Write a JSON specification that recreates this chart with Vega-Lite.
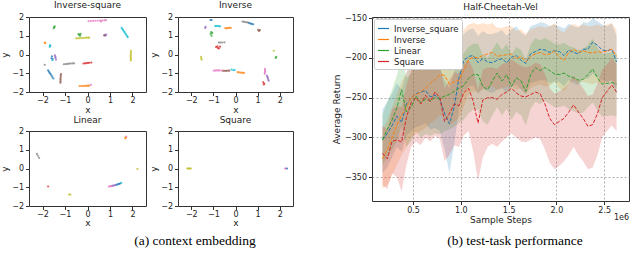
{
  "$schema": "https://vega.github.io/schema/vega-lite/v6.json",
  "padding": {"left": 0, "top": 0, "right": 0, "bottom": 0},
  "config": {
    "font": "DejaVu Sans",
    "view": {"stroke": "#333", "strokeWidth": 1},
    "axis": {"domain": false, "labelFontSize": 8, "titleFontSize": 9, "titleFontWeight": "normal", "tickSize": 3.5, "tickColor": "#333", "labelColor": "#222", "titleColor": "#222", "labelPadding": 2, "titlePadding": 3, "grid": false},
    "title": {"fontWeight": "normal", "fontSize": 9, "color": "#222", "offset": 3}
  },
  "datasets": {
    "emb": [
      {"p":"Inverse-square","c":"pink","x":0.05,"y":1.78},{"p":"Inverse-square","c":"pink","x":0.15,"y":1.785},{"p":"Inverse-square","c":"pink","x":0.25,"y":1.79},{"p":"Inverse-square","c":"pink","x":0.35,"y":1.8},{"p":"Inverse-square","c":"pink","x":0.45,"y":1.8},{"p":"Inverse-square","c":"pink","x":0.55,"y":1.81},{"p":"Inverse-square","c":"pink","x":0.65,"y":1.82},{"p":"Inverse-square","c":"pink","x":0.75,"y":1.82},{"p":"Inverse-square","c":"pink","x":0.82,"y":1.83},{"p":"Inverse-square","c":"pink","x":0.6,"y":1.76},
      {"p":"Inverse-square","c":"green","x":-1.5,"y":1.4},{"p":"Inverse-square","c":"green","x":-1.48,"y":1.45},{"p":"Inverse-square","c":"green","x":-1.46,"y":1.5},
      {"p":"Inverse-square","c":"orange","x":-1.9,"y":0.64},{"p":"Inverse-square","c":"orange","x":-1.88,"y":0.6},
      {"p":"Inverse-square","c":"cyan","x":-1.67,"y":0.5},{"p":"Inverse-square","c":"cyan","x":-1.65,"y":0.45},{"p":"Inverse-square","c":"cyan","x":-1.68,"y":0.41},
      {"p":"Inverse-square","c":"green","x":-0.37,"y":1.05},{"p":"Inverse-square","c":"green","x":-0.33,"y":1.0},{"p":"Inverse-square","c":"green","x":-0.4,"y":1.09},{"p":"Inverse-square","c":"green","x":-0.31,"y":1.1},
      {"p":"Inverse-square","c":"olive","x":-0.5,"y":0.86},{"p":"Inverse-square","c":"olive","x":-0.42,"y":0.865},{"p":"Inverse-square","c":"olive","x":-0.35,"y":0.87},{"p":"Inverse-square","c":"olive","x":-0.27,"y":0.875},{"p":"Inverse-square","c":"olive","x":-0.2,"y":0.88},{"p":"Inverse-square","c":"olive","x":-0.12,"y":0.89},{"p":"Inverse-square","c":"olive","x":-0.05,"y":0.9},{"p":"Inverse-square","c":"olive","x":0.02,"y":0.9},{"p":"Inverse-square","c":"olive","x":0.07,"y":0.9},
      {"p":"Inverse-square","c":"purple","x":0.77,"y":1.05},{"p":"Inverse-square","c":"purple","x":0.8,"y":1.0},{"p":"Inverse-square","c":"purple","x":0.83,"y":1.06},{"p":"Inverse-square","c":"brown","x":0.74,"y":1.02},
      {"p":"Inverse-square","c":"cyan","x":1.52,"y":1.42},{"p":"Inverse-square","c":"cyan","x":1.55,"y":1.36},{"p":"Inverse-square","c":"cyan","x":1.58,"y":1.3},{"p":"Inverse-square","c":"cyan","x":1.62,"y":1.24},{"p":"Inverse-square","c":"cyan","x":1.65,"y":1.18},{"p":"Inverse-square","c":"cyan","x":1.69,"y":1.11},{"p":"Inverse-square","c":"cyan","x":1.72,"y":1.05},{"p":"Inverse-square","c":"cyan","x":1.76,"y":0.98},{"p":"Inverse-square","c":"cyan","x":1.79,"y":0.92},
      {"p":"Inverse-square","c":"olive","x":1.93,"y":0.2},{"p":"Inverse-square","c":"olive","x":1.93,"y":0.12},{"p":"Inverse-square","c":"olive","x":1.93,"y":0.05},{"p":"Inverse-square","c":"olive","x":1.92,"y":-0.03},{"p":"Inverse-square","c":"olive","x":1.92,"y":-0.1},{"p":"Inverse-square","c":"olive","x":1.93,"y":-0.18},{"p":"Inverse-square","c":"olive","x":1.93,"y":-0.25},{"p":"Inverse-square","c":"olive","x":1.92,"y":-0.32},
      {"p":"Inverse-square","c":"blue","x":-1.58,"y":-0.1},{"p":"Inverse-square","c":"blue","x":-1.6,"y":-0.2},{"p":"Inverse-square","c":"blue","x":-1.55,"y":-0.25},{"p":"Inverse-square","c":"cyan","x":-1.56,"y":-0.3},
      {"p":"Inverse-square","c":"purple","x":-1.45,"y":-0.05},{"p":"Inverse-square","c":"purple","x":-1.42,"y":-0.18},{"p":"Inverse-square","c":"purple","x":-1.4,"y":-0.28},{"p":"Inverse-square","c":"purple","x":-1.43,"y":-0.12},
      {"p":"Inverse-square","c":"gray","x":-1.9,"y":-0.55},
      {"p":"Inverse-square","c":"gray","x":-1.05,"y":-0.52},{"p":"Inverse-square","c":"gray","x":-0.97,"y":-0.51},{"p":"Inverse-square","c":"gray","x":-0.9,"y":-0.5},{"p":"Inverse-square","c":"gray","x":-0.82,"y":-0.49},{"p":"Inverse-square","c":"gray","x":-0.75,"y":-0.48},{"p":"Inverse-square","c":"gray","x":-0.67,"y":-0.475},{"p":"Inverse-square","c":"gray","x":-0.6,"y":-0.47},
      {"p":"Inverse-square","c":"red","x":-0.18,"y":-0.48},{"p":"Inverse-square","c":"red","x":-0.11,"y":-0.47},{"p":"Inverse-square","c":"red","x":-0.05,"y":-0.46},{"p":"Inverse-square","c":"red","x":0.02,"y":-0.45},{"p":"Inverse-square","c":"red","x":0.08,"y":-0.44},{"p":"Inverse-square","c":"red","x":0.17,"y":-0.43},
      {"p":"Inverse-square","c":"blue","x":-1.75,"y":-0.85},{"p":"Inverse-square","c":"blue","x":-1.71,"y":-0.92},{"p":"Inverse-square","c":"blue","x":-1.68,"y":-0.98},{"p":"Inverse-square","c":"blue","x":-1.64,"y":-1.05},{"p":"Inverse-square","c":"blue","x":-1.6,"y":-1.12},{"p":"Inverse-square","c":"blue","x":-1.56,"y":-1.2},{"p":"Inverse-square","c":"blue","x":-1.52,"y":-1.28},
      {"p":"Inverse-square","c":"brown","x":-1.18,"y":-1.05},{"p":"Inverse-square","c":"brown","x":-1.19,"y":-1.12},{"p":"Inverse-square","c":"brown","x":-1.19,"y":-1.2},{"p":"Inverse-square","c":"brown","x":-1.2,"y":-1.28},{"p":"Inverse-square","c":"brown","x":-1.2,"y":-1.35},{"p":"Inverse-square","c":"brown","x":-1.2,"y":-1.43},{"p":"Inverse-square","c":"brown","x":-1.2,"y":-1.5},
      {"p":"Inverse-square","c":"orange","x":-0.35,"y":-1.68},{"p":"Inverse-square","c":"orange","x":-0.27,"y":-1.68},{"p":"Inverse-square","c":"orange","x":-0.2,"y":-1.68},{"p":"Inverse-square","c":"orange","x":-0.12,"y":-1.675},{"p":"Inverse-square","c":"orange","x":-0.05,"y":-1.67},{"p":"Inverse-square","c":"orange","x":0.01,"y":-1.665},{"p":"Inverse-square","c":"orange","x":0.07,"y":-1.66},
      {"p":"Inverse-square","c":"pink","x":0.15,"y":-1.62},
      {"p":"Inverse","c":"blue","x":-1.13,"y":1.84},{"p":"Inverse","c":"blue","x":-1.08,"y":1.84},
      {"p":"Inverse","c":"purple","x":-1.37,"y":1.42},{"p":"Inverse","c":"purple","x":-1.35,"y":1.48},
      {"p":"Inverse","c":"cyan","x":-0.92,"y":1.52},{"p":"Inverse","c":"cyan","x":-0.87,"y":1.52},{"p":"Inverse","c":"cyan","x":-0.82,"y":1.52},{"p":"Inverse","c":"cyan","x":-0.76,"y":1.51},{"p":"Inverse","c":"cyan","x":-0.7,"y":1.5},
      {"p":"Inverse","c":"orange","x":-0.46,"y":1.4},{"p":"Inverse","c":"orange","x":-0.4,"y":1.405},{"p":"Inverse","c":"orange","x":-0.35,"y":1.41},{"p":"Inverse","c":"orange","x":-0.28,"y":1.415},{"p":"Inverse","c":"orange","x":-0.22,"y":1.42},
      {"p":"Inverse","c":"green","x":-1.1,"y":1.2},{"p":"Inverse","c":"green","x":-1.12,"y":1.1},{"p":"Inverse","c":"green","x":-1.08,"y":1.0},{"p":"Inverse","c":"green","x":-1.05,"y":1.15},
      {"p":"Inverse","c":"gray","x":0.32,"y":1.76},{"p":"Inverse","c":"gray","x":0.38,"y":1.745},{"p":"Inverse","c":"gray","x":0.45,"y":1.73},{"p":"Inverse","c":"gray","x":0.52,"y":1.715},{"p":"Inverse","c":"gray","x":0.58,"y":1.7},{"p":"Inverse","c":"blue","x":0.63,"y":1.67},{"p":"Inverse","c":"blue","x":0.68,"y":1.65},{"p":"Inverse","c":"blue","x":0.74,"y":1.63},{"p":"Inverse","c":"blue","x":0.8,"y":1.61},
      {"p":"Inverse","c":"brown","x":1.02,"y":1.32},{"p":"Inverse","c":"brown","x":1.06,"y":1.26},{"p":"Inverse","c":"brown","x":1.1,"y":1.3},
      {"p":"Inverse","c":"gray","x":-0.75,"y":0.64},{"p":"Inverse","c":"gray","x":-0.68,"y":0.64},{"p":"Inverse","c":"gray","x":-0.6,"y":0.64},{"p":"Inverse","c":"gray","x":-0.5,"y":0.65},
      {"p":"Inverse","c":"red","x":-0.88,"y":0.4},{"p":"Inverse","c":"red","x":-0.8,"y":0.35},{"p":"Inverse","c":"red","x":-0.75,"y":0.32},{"p":"Inverse","c":"red","x":-0.7,"y":0.42},{"p":"Inverse","c":"red","x":-0.82,"y":0.44},
      {"p":"Inverse","c":"olive","x":-1.56,"y":-0.12},{"p":"Inverse","c":"olive","x":-1.55,"y":-0.2},{"p":"Inverse","c":"olive","x":-1.53,"y":-0.27},
      {"p":"Inverse","c":"olive","x":1.73,"y":0.2},{"p":"Inverse","c":"green","x":1.84,"y":-0.12},{"p":"Inverse","c":"green","x":1.82,"y":-0.18},
      {"p":"Inverse","c":"pink","x":-0.98,"y":-0.86},{"p":"Inverse","c":"pink","x":-0.91,"y":-0.855},{"p":"Inverse","c":"pink","x":-0.85,"y":-0.85},{"p":"Inverse","c":"pink","x":-0.78,"y":-0.85},{"p":"Inverse","c":"pink","x":-0.72,"y":-0.85},{"p":"Inverse","c":"pink","x":-0.62,"y":-0.86},
      {"p":"Inverse","c":"brown","x":-0.55,"y":-0.87},{"p":"Inverse","c":"brown","x":-0.48,"y":-0.87},{"p":"Inverse","c":"brown","x":-0.42,"y":-0.87},{"p":"Inverse","c":"brown","x":-0.35,"y":-0.865},{"p":"Inverse","c":"brown","x":-0.28,"y":-0.86},
      {"p":"Inverse","c":"cyan","x":-0.18,"y":-0.8},{"p":"Inverse","c":"cyan","x":-0.1,"y":-0.84},{"p":"Inverse","c":"cyan","x":-0.04,"y":-0.82},
      {"p":"Inverse","c":"orange","x":0.1,"y":-0.94},{"p":"Inverse","c":"orange","x":0.17,"y":-0.955},{"p":"Inverse","c":"orange","x":0.25,"y":-0.97},{"p":"Inverse","c":"orange","x":0.32,"y":-0.975},{"p":"Inverse","c":"orange","x":0.38,"y":-0.98},
      {"p":"Inverse","c":"pink","x":1.33,"y":-0.77},{"p":"Inverse","c":"pink","x":1.34,"y":-0.84},{"p":"Inverse","c":"pink","x":1.34,"y":-0.9},{"p":"Inverse","c":"pink","x":1.33,"y":-0.97},{"p":"Inverse","c":"pink","x":1.32,"y":-1.03},
      {"p":"Inverse","c":"purple","x":1.42,"y":-1.12},{"p":"Inverse","c":"purple","x":1.44,"y":-1.19},{"p":"Inverse","c":"purple","x":1.46,"y":-1.25},{"p":"Inverse","c":"purple","x":1.48,"y":-1.33},{"p":"Inverse","c":"purple","x":1.5,"y":-1.4},
      {"p":"Inverse","c":"red","x":1.25,"y":-1.48},{"p":"Inverse","c":"red","x":1.3,"y":-1.55},{"p":"Inverse","c":"red","x":1.28,"y":-1.6},
      {"p":"Linear","c":"pink","x":1.72,"y":1.7},{"p":"Linear","c":"orange","x":1.68,"y":1.62},{"p":"Linear","c":"orange","x":1.7,"y":1.65},
      {"p":"Linear","c":"gray","x":-2.25,"y":0.78},{"p":"Linear","c":"gray","x":-2.2,"y":0.68},{"p":"Linear","c":"gray","x":-2.15,"y":0.57},
      {"p":"Linear","c":"olive","x":2.22,"y":-0.02},
      {"p":"Linear","c":"red","x":-1.75,"y":-0.96},
      {"p":"Linear","c":"olive","x":-0.82,"y":-1.39},{"p":"Linear","c":"olive","x":-0.76,"y":-1.39},
      {"p":"Linear","c":"pink","x":0.95,"y":-0.96},{"p":"Linear","c":"pink","x":1.0,"y":-0.95},{"p":"Linear","c":"pink","x":1.05,"y":-0.94},{"p":"Linear","c":"purple","x":1.1,"y":-0.925},{"p":"Linear","c":"purple","x":1.15,"y":-0.91},{"p":"Linear","c":"purple","x":1.2,"y":-0.895},{"p":"Linear","c":"purple","x":1.25,"y":-0.88},{"p":"Linear","c":"blue","x":1.3,"y":-0.86},{"p":"Linear","c":"blue","x":1.35,"y":-0.84},{"p":"Linear","c":"blue","x":1.4,"y":-0.82},{"p":"Linear","c":"blue","x":1.45,"y":-0.8},{"p":"Linear","c":"cyan","x":1.5,"y":-0.77},
      {"p":"Square","c":"olive","x":-2.18,"y":0.0},{"p":"Square","c":"olive","x":-2.14,"y":0.0},{"p":"Square","c":"olive","x":-2.1,"y":0.0},{"p":"Square","c":"olive","x":-2.06,"y":0.0},{"p":"Square","c":"olive","x":-2.02,"y":0.0},
      {"p":"Square","c":"pink","x":2.24,"y":0.0},{"p":"Square","c":"pink","x":2.28,"y":0.0},{"p":"Square","c":"blue","x":2.33,"y":0.0}
    ],
    "perf": [
      {"s":"Inverse_square","x":0.18,"y":-303,"lo":-345,"hi":-265},{"s":"Inverse_square","x":0.23,"y":-295,"lo":-338,"hi":-255},{"s":"Inverse_square","x":0.28,"y":-285,"lo":-325,"hi":-245},{"s":"Inverse_square","x":0.33,"y":-273,"lo":-312,"hi":-232},{"s":"Inverse_square","x":0.38,"y":-281,"lo":-318,"hi":-240},{"s":"Inverse_square","x":0.43,"y":-258,"lo":-298,"hi":-218},{"s":"Inverse_square","x":0.48,"y":-251,"lo":-292,"hi":-210},{"s":"Inverse_square","x":0.53,"y":-245,"lo":-287,"hi":-205},{"s":"Inverse_square","x":0.58,"y":-243,"lo":-285,"hi":-202},{"s":"Inverse_square","x":0.63,"y":-241,"lo":-282,"hi":-200},
      {"s":"Inverse_square","x":0.68,"y":-249,"lo":-290,"hi":-208},{"s":"Inverse_square","x":0.73,"y":-247,"lo":-288,"hi":-206},{"s":"Inverse_square","x":0.78,"y":-252,"lo":-292,"hi":-212},{"s":"Inverse_square","x":0.83,"y":-270,"lo":-315,"hi":-228},{"s":"Inverse_square","x":0.88,"y":-283,"lo":-345,"hi":-238},{"s":"Inverse_square","x":0.93,"y":-262,"lo":-310,"hi":-218},{"s":"Inverse_square","x":0.98,"y":-225,"lo":-265,"hi":-185},{"s":"Inverse_square","x":1.03,"y":-204,"lo":-242,"hi":-170},{"s":"Inverse_square","x":1.08,"y":-198,"lo":-236,"hi":-165},{"s":"Inverse_square","x":1.13,"y":-197,"lo":-235,"hi":-163},
      {"s":"Inverse_square","x":1.18,"y":-206,"lo":-245,"hi":-172},{"s":"Inverse_square","x":1.23,"y":-201,"lo":-238,"hi":-166},{"s":"Inverse_square","x":1.28,"y":-205,"lo":-242,"hi":-170},{"s":"Inverse_square","x":1.33,"y":-206,"lo":-244,"hi":-170},{"s":"Inverse_square","x":1.38,"y":-203,"lo":-240,"hi":-168},{"s":"Inverse_square","x":1.43,"y":-201,"lo":-238,"hi":-165},{"s":"Inverse_square","x":1.48,"y":-206,"lo":-244,"hi":-172},{"s":"Inverse_square","x":1.53,"y":-199,"lo":-236,"hi":-164},{"s":"Inverse_square","x":1.58,"y":-197,"lo":-233,"hi":-160},{"s":"Inverse_square","x":1.63,"y":-203,"lo":-240,"hi":-168},
      {"s":"Inverse_square","x":1.68,"y":-207,"lo":-245,"hi":-172},{"s":"Inverse_square","x":1.73,"y":-195,"lo":-232,"hi":-160},{"s":"Inverse_square","x":1.78,"y":-192,"lo":-230,"hi":-158},{"s":"Inverse_square","x":1.83,"y":-189,"lo":-228,"hi":-155},{"s":"Inverse_square","x":1.88,"y":-190,"lo":-228,"hi":-156},{"s":"Inverse_square","x":1.93,"y":-193,"lo":-232,"hi":-160},{"s":"Inverse_square","x":1.98,"y":-191,"lo":-230,"hi":-158},{"s":"Inverse_square","x":2.03,"y":-192,"lo":-230,"hi":-160},{"s":"Inverse_square","x":2.08,"y":-197,"lo":-236,"hi":-163},{"s":"Inverse_square","x":2.13,"y":-190,"lo":-228,"hi":-157},
      {"s":"Inverse_square","x":2.18,"y":-193,"lo":-232,"hi":-160},{"s":"Inverse_square","x":2.23,"y":-195,"lo":-234,"hi":-162},{"s":"Inverse_square","x":2.28,"y":-189,"lo":-226,"hi":-155},{"s":"Inverse_square","x":2.33,"y":-189,"lo":-226,"hi":-156},{"s":"Inverse_square","x":2.38,"y":-180,"lo":-220,"hi":-150},{"s":"Inverse_square","x":2.43,"y":-184,"lo":-224,"hi":-154},{"s":"Inverse_square","x":2.48,"y":-190,"lo":-228,"hi":-158},{"s":"Inverse_square","x":2.53,"y":-191,"lo":-230,"hi":-160},{"s":"Inverse_square","x":2.58,"y":-189,"lo":-228,"hi":-157},{"s":"Inverse_square","x":2.63,"y":-205,"lo":-245,"hi":-172},
      {"s":"Inverse","x":0.18,"y":-327,"lo":-365,"hi":-290},{"s":"Inverse","x":0.23,"y":-315,"lo":-360,"hi":-278},{"s":"Inverse","x":0.28,"y":-300,"lo":-348,"hi":-262},{"s":"Inverse","x":0.33,"y":-285,"lo":-335,"hi":-245},{"s":"Inverse","x":0.38,"y":-272,"lo":-322,"hi":-230},{"s":"Inverse","x":0.43,"y":-262,"lo":-312,"hi":-218},{"s":"Inverse","x":0.48,"y":-250,"lo":-300,"hi":-205},{"s":"Inverse","x":0.53,"y":-246,"lo":-296,"hi":-198},{"s":"Inverse","x":0.58,"y":-243,"lo":-292,"hi":-192},{"s":"Inverse","x":0.63,"y":-238,"lo":-288,"hi":-186},
      {"s":"Inverse","x":0.68,"y":-232,"lo":-282,"hi":-178},{"s":"Inverse","x":0.73,"y":-227,"lo":-278,"hi":-172},{"s":"Inverse","x":0.78,"y":-221,"lo":-272,"hi":-164},{"s":"Inverse","x":0.83,"y":-222,"lo":-274,"hi":-162},{"s":"Inverse","x":0.88,"y":-233,"lo":-285,"hi":-172},{"s":"Inverse","x":0.93,"y":-230,"lo":-280,"hi":-170},{"s":"Inverse","x":0.98,"y":-228,"lo":-276,"hi":-170},{"s":"Inverse","x":1.03,"y":-216,"lo":-262,"hi":-165},{"s":"Inverse","x":1.08,"y":-202,"lo":-245,"hi":-158},{"s":"Inverse","x":1.13,"y":-199,"lo":-242,"hi":-156},
      {"s":"Inverse","x":1.18,"y":-200,"lo":-243,"hi":-158},{"s":"Inverse","x":1.23,"y":-197,"lo":-240,"hi":-156},{"s":"Inverse","x":1.28,"y":-195,"lo":-238,"hi":-158},{"s":"Inverse","x":1.33,"y":-193,"lo":-236,"hi":-156},{"s":"Inverse","x":1.38,"y":-198,"lo":-240,"hi":-162},{"s":"Inverse","x":1.43,"y":-197,"lo":-238,"hi":-162},{"s":"Inverse","x":1.48,"y":-196,"lo":-236,"hi":-160},{"s":"Inverse","x":1.53,"y":-195,"lo":-235,"hi":-160},{"s":"Inverse","x":1.58,"y":-201,"lo":-240,"hi":-166},{"s":"Inverse","x":1.63,"y":-198,"lo":-238,"hi":-164},
      {"s":"Inverse","x":1.68,"y":-205,"lo":-245,"hi":-170},{"s":"Inverse","x":1.73,"y":-198,"lo":-238,"hi":-164},{"s":"Inverse","x":1.78,"y":-195,"lo":-235,"hi":-162},{"s":"Inverse","x":1.83,"y":-193,"lo":-233,"hi":-160},{"s":"Inverse","x":1.88,"y":-196,"lo":-236,"hi":-162},{"s":"Inverse","x":1.93,"y":-195,"lo":-235,"hi":-160},{"s":"Inverse","x":1.98,"y":-191,"lo":-230,"hi":-156},{"s":"Inverse","x":2.03,"y":-199,"lo":-238,"hi":-165},{"s":"Inverse","x":2.08,"y":-203,"lo":-242,"hi":-168},{"s":"Inverse","x":2.13,"y":-193,"lo":-232,"hi":-160},
      {"s":"Inverse","x":2.18,"y":-189,"lo":-228,"hi":-157},{"s":"Inverse","x":2.23,"y":-193,"lo":-232,"hi":-160},{"s":"Inverse","x":2.28,"y":-191,"lo":-230,"hi":-158},{"s":"Inverse","x":2.33,"y":-193,"lo":-232,"hi":-160},{"s":"Inverse","x":2.38,"y":-194,"lo":-233,"hi":-160},{"s":"Inverse","x":2.43,"y":-192,"lo":-231,"hi":-158},{"s":"Inverse","x":2.48,"y":-193,"lo":-232,"hi":-160},{"s":"Inverse","x":2.53,"y":-191,"lo":-230,"hi":-158},{"s":"Inverse","x":2.58,"y":-189,"lo":-228,"hi":-156},{"s":"Inverse","x":2.63,"y":-198,"lo":-238,"hi":-165},
      {"s":"Linear","x":0.18,"y":-303,"lo":-335,"hi":-272},{"s":"Linear","x":0.23,"y":-290,"lo":-325,"hi":-255},{"s":"Linear","x":0.28,"y":-278,"lo":-315,"hi":-240},{"s":"Linear","x":0.33,"y":-263,"lo":-305,"hi":-222},{"s":"Linear","x":0.38,"y":-240,"lo":-285,"hi":-200},{"s":"Linear","x":0.43,"y":-268,"lo":-312,"hi":-225},{"s":"Linear","x":0.48,"y":-262,"lo":-305,"hi":-220},{"s":"Linear","x":0.53,"y":-248,"lo":-292,"hi":-205},{"s":"Linear","x":0.58,"y":-256,"lo":-300,"hi":-212},{"s":"Linear","x":0.63,"y":-252,"lo":-296,"hi":-208},
      {"s":"Linear","x":0.68,"y":-254,"lo":-298,"hi":-210},{"s":"Linear","x":0.73,"y":-250,"lo":-295,"hi":-206},{"s":"Linear","x":0.78,"y":-251,"lo":-296,"hi":-206},{"s":"Linear","x":0.83,"y":-248,"lo":-292,"hi":-204},{"s":"Linear","x":0.88,"y":-246,"lo":-290,"hi":-203},{"s":"Linear","x":0.93,"y":-242,"lo":-287,"hi":-200},{"s":"Linear","x":0.98,"y":-238,"lo":-282,"hi":-196},{"s":"Linear","x":1.03,"y":-235,"lo":-278,"hi":-194},{"s":"Linear","x":1.08,"y":-226,"lo":-270,"hi":-186},{"s":"Linear","x":1.13,"y":-221,"lo":-265,"hi":-182},
      {"s":"Linear","x":1.18,"y":-221,"lo":-265,"hi":-182},{"s":"Linear","x":1.23,"y":-236,"lo":-280,"hi":-196},{"s":"Linear","x":1.28,"y":-240,"lo":-284,"hi":-200},{"s":"Linear","x":1.33,"y":-229,"lo":-272,"hi":-190},{"s":"Linear","x":1.38,"y":-219,"lo":-262,"hi":-180},{"s":"Linear","x":1.43,"y":-229,"lo":-272,"hi":-190},{"s":"Linear","x":1.48,"y":-221,"lo":-264,"hi":-182},{"s":"Linear","x":1.53,"y":-236,"lo":-278,"hi":-196},{"s":"Linear","x":1.58,"y":-225,"lo":-268,"hi":-186},{"s":"Linear","x":1.63,"y":-229,"lo":-272,"hi":-190},
      {"s":"Linear","x":1.68,"y":-242,"lo":-285,"hi":-202},{"s":"Linear","x":1.73,"y":-221,"lo":-264,"hi":-183},{"s":"Linear","x":1.78,"y":-212,"lo":-255,"hi":-175},{"s":"Linear","x":1.83,"y":-216,"lo":-258,"hi":-178},{"s":"Linear","x":1.88,"y":-212,"lo":-254,"hi":-175},{"s":"Linear","x":1.93,"y":-216,"lo":-258,"hi":-178},{"s":"Linear","x":1.98,"y":-220,"lo":-262,"hi":-182},{"s":"Linear","x":2.03,"y":-221,"lo":-262,"hi":-183},{"s":"Linear","x":2.08,"y":-219,"lo":-260,"hi":-181},{"s":"Linear","x":2.13,"y":-223,"lo":-265,"hi":-185},
      {"s":"Linear","x":2.18,"y":-225,"lo":-267,"hi":-187},{"s":"Linear","x":2.23,"y":-228,"lo":-270,"hi":-190},{"s":"Linear","x":2.28,"y":-227,"lo":-269,"hi":-189},{"s":"Linear","x":2.33,"y":-221,"lo":-262,"hi":-183},{"s":"Linear","x":2.38,"y":-214,"lo":-256,"hi":-176},{"s":"Linear","x":2.43,"y":-225,"lo":-266,"hi":-187},{"s":"Linear","x":2.48,"y":-233,"lo":-274,"hi":-195},{"s":"Linear","x":2.53,"y":-232,"lo":-273,"hi":-194},{"s":"Linear","x":2.58,"y":-231,"lo":-272,"hi":-193},{"s":"Linear","x":2.63,"y":-233,"lo":-274,"hi":-195},
      {"s":"Square","x":0.18,"y":-320,"lo":-360,"hi":-285},{"s":"Square","x":0.23,"y":-327,"lo":-365,"hi":-290},{"s":"Square","x":0.28,"y":-305,"lo":-345,"hi":-265},{"s":"Square","x":0.33,"y":-303,"lo":-350,"hi":-260},{"s":"Square","x":0.38,"y":-306,"lo":-368,"hi":-262},{"s":"Square","x":0.43,"y":-275,"lo":-335,"hi":-235},{"s":"Square","x":0.48,"y":-256,"lo":-312,"hi":-215},{"s":"Square","x":0.53,"y":-250,"lo":-305,"hi":-208},{"s":"Square","x":0.58,"y":-258,"lo":-310,"hi":-215},{"s":"Square","x":0.63,"y":-247,"lo":-300,"hi":-208},
      {"s":"Square","x":0.68,"y":-255,"lo":-305,"hi":-212},{"s":"Square","x":0.73,"y":-243,"lo":-298,"hi":-205},{"s":"Square","x":0.78,"y":-250,"lo":-302,"hi":-210},{"s":"Square","x":0.83,"y":-280,"lo":-330,"hi":-238},{"s":"Square","x":0.88,"y":-270,"lo":-322,"hi":-228},{"s":"Square","x":0.93,"y":-258,"lo":-310,"hi":-218},{"s":"Square","x":0.98,"y":-260,"lo":-312,"hi":-220},{"s":"Square","x":1.03,"y":-244,"lo":-298,"hi":-208},{"s":"Square","x":1.08,"y":-238,"lo":-292,"hi":-202},{"s":"Square","x":1.13,"y":-255,"lo":-318,"hi":-215},
      {"s":"Square","x":1.18,"y":-282,"lo":-355,"hi":-240},{"s":"Square","x":1.23,"y":-253,"lo":-325,"hi":-215},{"s":"Square","x":1.28,"y":-250,"lo":-312,"hi":-212},{"s":"Square","x":1.33,"y":-250,"lo":-308,"hi":-212},{"s":"Square","x":1.38,"y":-252,"lo":-312,"hi":-214},{"s":"Square","x":1.43,"y":-246,"lo":-305,"hi":-208},{"s":"Square","x":1.48,"y":-243,"lo":-300,"hi":-206},{"s":"Square","x":1.53,"y":-238,"lo":-295,"hi":-202},{"s":"Square","x":1.58,"y":-244,"lo":-300,"hi":-206},{"s":"Square","x":1.63,"y":-248,"lo":-305,"hi":-210},
      {"s":"Square","x":1.68,"y":-249,"lo":-306,"hi":-212},{"s":"Square","x":1.73,"y":-246,"lo":-303,"hi":-210},{"s":"Square","x":1.78,"y":-243,"lo":-300,"hi":-206},{"s":"Square","x":1.83,"y":-245,"lo":-302,"hi":-208},{"s":"Square","x":1.88,"y":-258,"lo":-315,"hi":-220},{"s":"Square","x":1.93,"y":-276,"lo":-332,"hi":-238},{"s":"Square","x":1.98,"y":-284,"lo":-340,"hi":-245},{"s":"Square","x":2.03,"y":-280,"lo":-336,"hi":-242},{"s":"Square","x":2.08,"y":-276,"lo":-330,"hi":-238},{"s":"Square","x":2.13,"y":-268,"lo":-322,"hi":-232},
      {"s":"Square","x":2.18,"y":-259,"lo":-312,"hi":-222},{"s":"Square","x":2.23,"y":-268,"lo":-322,"hi":-230},{"s":"Square","x":2.28,"y":-276,"lo":-330,"hi":-238},{"s":"Square","x":2.33,"y":-286,"lo":-340,"hi":-248},{"s":"Square","x":2.38,"y":-284,"lo":-338,"hi":-246},{"s":"Square","x":2.43,"y":-270,"lo":-322,"hi":-232},{"s":"Square","x":2.48,"y":-250,"lo":-300,"hi":-215},{"s":"Square","x":2.53,"y":-242,"lo":-292,"hi":-208},{"s":"Square","x":2.58,"y":-234,"lo":-285,"hi":-200},{"s":"Square","x":2.63,"y":-243,"lo":-292,"hi":-208}
    ]
  },
  "resolve": {"scale": {"color": "independent", "fill": "independent", "stroke": "independent"}, "legend": {"color": "independent", "fill": "independent", "stroke": "independent"}},
  "spacing": 6,
  "vconcat": [
    {
      "spacing": 38,
      "resolve": {"scale": {"color": "independent", "fill": "independent", "stroke": "independent"}, "legend": {"color": "independent", "fill": "independent", "stroke": "independent"}},
      "hconcat": [
        {
          "data": {"name": "emb"},
          "spacing": 0,
          "vconcat": [
            {
              "spacing": 2,
              "hconcat": [
                {
                  "title": {"text": "Inverse-square"},
                  "width": 117, "height": 75,
                  "transform": [{"filter": "datum.p == 'Inverse-square'"}],
                  "mark": {"type": "circle", "size": 5, "opacity": 0.75},
                  "encoding": {
                    "x": {"field": "x", "type": "quantitative", "scale": {"domain": [-2.6, 2.6], "nice": false, "zero": false}, "axis": {"title": "x", "labelPadding": 1, "titlePadding": 1, "values": [-2, -1, 0, 1, 2], "format": "d"}},
                    "y": {"field": "y", "type": "quantitative", "scale": {"domain": [-2, 2], "nice": false, "zero": false}, "axis": {"title": "y", "titlePadding": 2, "values": [-2, -1, 0, 1, 2], "format": "d"}},
                    "color": {"field": "c", "type": "nominal", "legend": null, "scale": {"domain": ["blue","orange","green","red","purple","brown","pink","gray","olive","cyan"], "range": ["#1f77b4","#ff7f0e","#2ca02c","#d62728","#9467bd","#8c564b","#e377c2","#7f7f7f","#bcbd22","#17becf"]}}
                  }
                },
                {
                  "title": {"text": "Inverse"},
                  "width": 115, "height": 75,
                  "transform": [{"filter": "datum.p == 'Inverse'"}],
                  "mark": {"type": "circle", "size": 5, "opacity": 0.75},
                  "encoding": {
                    "x": {"field": "x", "type": "quantitative", "scale": {"domain": [-2.6, 2.6], "nice": false, "zero": false}, "axis": {"title": "x", "labelPadding": 1, "titlePadding": 1, "values": [-2, -1, 0, 1, 2], "format": "d"}},
                    "y": {"field": "y", "type": "quantitative", "scale": {"domain": [-2, 2], "nice": false, "zero": false}, "axis": {"title": "y", "titlePadding": 2, "values": [-2, -1, 0, 1, 2], "format": "d"}},
                    "color": {"field": "c", "type": "nominal", "legend": null, "scale": {"domain": ["blue","orange","green","red","purple","brown","pink","gray","olive","cyan"], "range": ["#1f77b4","#ff7f0e","#2ca02c","#d62728","#9467bd","#8c564b","#e377c2","#7f7f7f","#bcbd22","#17becf"]}}
                  }
                }
              ]
            },
            {
              "spacing": 2,
              "hconcat": [
                {
                  "title": {"text": "Linear", "offset": 2},
                  "width": 117, "height": 75,
                  "transform": [{"filter": "datum.p == 'Linear'"}],
                  "mark": {"type": "circle", "size": 5, "opacity": 0.75},
                  "encoding": {
                    "x": {"field": "x", "type": "quantitative", "scale": {"domain": [-2.6, 2.6], "nice": false, "zero": false}, "axis": {"title": "x", "labelPadding": 1, "titlePadding": 0, "values": [-2, -1, 0, 1, 2], "format": "d"}},
                    "y": {"field": "y", "type": "quantitative", "scale": {"domain": [-2, 2], "nice": false, "zero": false}, "axis": {"title": "y", "titlePadding": 2, "values": [-2, -1, 0, 1, 2], "format": "d"}},
                    "color": {"field": "c", "type": "nominal", "legend": null, "scale": {"domain": ["blue","orange","green","red","purple","brown","pink","gray","olive","cyan"], "range": ["#1f77b4","#ff7f0e","#2ca02c","#d62728","#9467bd","#8c564b","#e377c2","#7f7f7f","#bcbd22","#17becf"]}}
                  }
                },
                {
                  "title": {"text": "Square", "offset": 2},
                  "width": 115, "height": 75,
                  "transform": [{"filter": "datum.p == 'Square'"}],
                  "mark": {"type": "circle", "size": 5, "opacity": 0.75},
                  "encoding": {
                    "x": {"field": "x", "type": "quantitative", "scale": {"domain": [-2.6, 2.6], "nice": false, "zero": false}, "axis": {"title": "x", "labelPadding": 1, "titlePadding": 0, "values": [-2, -1, 0, 1, 2], "format": "d"}},
                    "y": {"field": "y", "type": "quantitative", "scale": {"domain": [-2, 2], "nice": false, "zero": false}, "axis": {"title": "y", "titlePadding": 2, "values": [-2, -1, 0, 1, 2], "format": "d"}},
                    "color": {"field": "c", "type": "nominal", "legend": null, "scale": {"domain": ["blue","orange","green","red","purple","brown","pink","gray","olive","cyan"], "range": ["#1f77b4","#ff7f0e","#2ca02c","#d62728","#9467bd","#8c564b","#e377c2","#7f7f7f","#bcbd22","#17becf"]}}
                  }
                }
              ]
            }
          ]
        },
        {
          "width": 257,
          "height": 184,
          "resolve": {"scale": {"fill": "independent", "stroke": "independent"}},
          "layer": [
            {
              "data": {"name": "perf"},
              "mark": {"type": "area", "fillOpacity": 0.2},
              "encoding": {
                "x": {"field": "x", "type": "quantitative", "scale": {"domain": [0.07, 2.76], "nice": false, "zero": false}, "axis": {"title": "Sample Steps", "titlePadding": 1, "values": [0.5, 1, 1.5, 2, 2.5], "format": ".1f", "grid": true, "gridDash": [2, 2], "gridColor": "#b0b0b0"}},
                "y": {"field": "lo", "type": "quantitative", "scale": {"domain": [-380, -148.5], "nice": false, "zero": false}, "axis": {"title": "Average Return", "values": [-350, -300, -250, -200, -150], "grid": true, "gridDash": [2, 2], "gridColor": "#b0b0b0"}},
                "y2": {"field": "hi"},
                "fill": {"field": "s", "type": "nominal", "scale": {"domain": ["Inverse_square", "Inverse", "Linear", "Square"], "range": ["#1f77b4", "#ff7f0e", "#2ca02c", "#d62728"]}, "legend": null}
              }
            },
            {
              "data": {"name": "perf"},
              "mark": {"type": "line", "strokeWidth": 1, "strokeDash": [3.7, 1.6]},
              "encoding": {
                "x": {"field": "x", "type": "quantitative"},
                "y": {"field": "y", "type": "quantitative"},
                "stroke": {"field": "s", "type": "nominal", "scale": {"domain": ["Inverse_square", "Inverse", "Linear", "Square"], "range": ["#1f77b4", "#ff7f0e", "#2ca02c", "#d62728"]},
                  "legend": {"title": null, "orient": "top-left", "offset": 2, "fillColor": "white", "strokeColor": "#ccc", "padding": 3, "cornerRadius": 2, "labelFontSize": 8.5, "labelOffset": 4, "symbolType": "stroke", "symbolStrokeWidth": 1.2, "symbolSize": 120, "rowPadding": 0, "labelColor": "#222"}}
              }
            },
            {
              "data": {"values": [{"t": "Half-Cheetah-Vel"}]},
              "mark": {"type": "text", "fontSize": 9, "color": "#222", "align": "center", "baseline": "middle"},
              "encoding": {
                "x": {"datum": 1.415},
                "y": {"datum": -136},
                "text": {"field": "t"}
              }
            },
            {
              "data": {"values": [{"t": "1e6"}]},
              "mark": {"type": "text", "fontSize": 8, "color": "#222", "align": "right", "baseline": "middle"},
              "encoding": {
                "x": {"datum": 2.76},
                "y": {"datum": -402},
                "text": {"field": "t"}
              }
            }
          ]
        }
      ]
    },
    {
      "width": 640,
      "height": 14,
      "view": {"stroke": null},
      "data": {"values": [{"t": "(a) context embedding"}, {"t": "(b) test-task performance"}]},
      "mark": {"type": "text", "font": "Liberation Serif", "fontSize": 13.5, "color": "#000", "dx": 6, "baseline": "middle"},
      "encoding": {
        "x": {"field": "t", "type": "nominal", "sort": null, "axis": null, "scale": {"paddingInner": 0, "paddingOuter": 0}},
        "text": {"field": "t"}
      }
    }
  ]
}
